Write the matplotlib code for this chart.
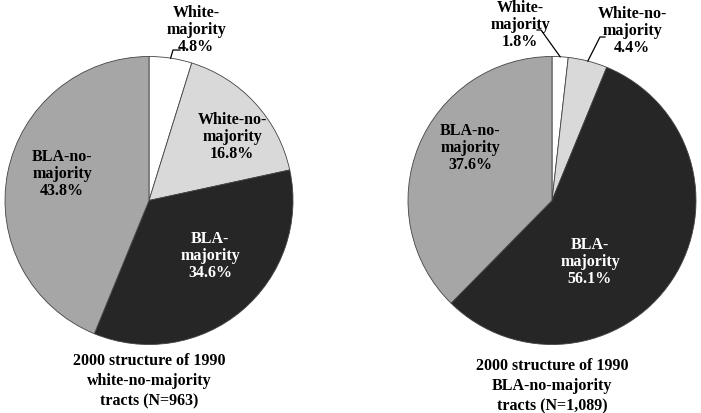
import numpy as np
import matplotlib.pyplot as plt

plt.rcParams['font.family'] = ['Liberation Serif', 'DejaVu Serif']

categories = ['White-majority', 'White-no-majority', 'BLA-majority', 'BLA-no-majority']
left_values = [4.8, 16.8, 34.6, 43.8]
right_values = [1.8, 4.4, 56.1, 37.6]
colors = ['#ffffff', '#d9d9d9', '#262626', '#a6a6a6']

left_labels = ['White-\nmajority\n4.8%', 'White-no-\nmajority\n16.8%',
               'BLA-\nmajority\n34.6%', 'BLA-no-\nmajority\n43.8%']
right_labels = ['White-\nmajority\n1.8%', 'White-no-\nmajority\n4.4%',
                'BLA-\nmajority\n56.1%', 'BLA-no-\nmajority\n37.6%']
left_title = '2000 structure of 1990\nwhite-no-majority\ntracts (N=963)'
right_title = '2000 structure of 1990\nBLA-no-majority\ntracts (N=1,089)'

W, H = 701, 413
fig = plt.figure(figsize=(W / 100, H / 100), dpi=100)
ax = fig.add_axes([0, 0, 1, 1])
ax.set_xlim(0, W)
ax.set_ylim(0, H)
ax.set_aspect('equal')
ax.axis('off')

R = 144


def draw_pie(cx, cy, values, labels, label_pos, leaders, title, title_y):
    ax.pie(values, colors=colors, startangle=90, counterclock=False,
           center=(cx, H - cy), radius=R, frame=True,
           wedgeprops=dict(edgecolor='#444444', linewidth=0.6))
    # mid angles for leader lines
    cum = np.cumsum([0] + values[:-1])
    tot = sum(values)
    for i, (lab, (tx, ty)) in enumerate(zip(labels, label_pos)):
        col = 'white' if colors[i] == '#262626' else 'black'
        ax.text(tx, H - ty, lab, ha='center', va='center', fontsize=11.5,
                fontweight='bold', color=col, linespacing=1.1)
        if leaders[i] is not None:
            ang = np.deg2rad(90 - (cum[i] + values[i] / 2) / tot * 360)
            ex, ey = cx + R * np.cos(ang), cy - R * np.sin(ang)
            pts = leaders[i]
            xs = [ex] + [p[0] for p in pts]
            ys = [H - ey] + [H - p[1] for p in pts]
            ax.plot(xs, ys, color='black', lw=0.9)
    ax.text(cx, H - title_y, title, ha='center', va='center', fontsize=11.5,
            fontweight='bold', linespacing=1.35)


draw_pie(149, 200.5, left_values, left_labels,
         [(196, 30), (232, 137), (210, 256), (62, 174)],
         [[(173, 50), (180, 50)], None, None, None],
         left_title, 381)
draw_pie(552, 200.5, right_values, right_labels,
         [(520, 25), (632, 31), (590, 262), (470, 148)],
         [[(541, 30), (537, 30)], [(600, 37), (605, 37)], None, None],
         right_title, 386)

ax.set_xlim(0, W)
ax.set_ylim(0, H)
ax.axis('off')

fig.savefig('out.png', dpi=100)
